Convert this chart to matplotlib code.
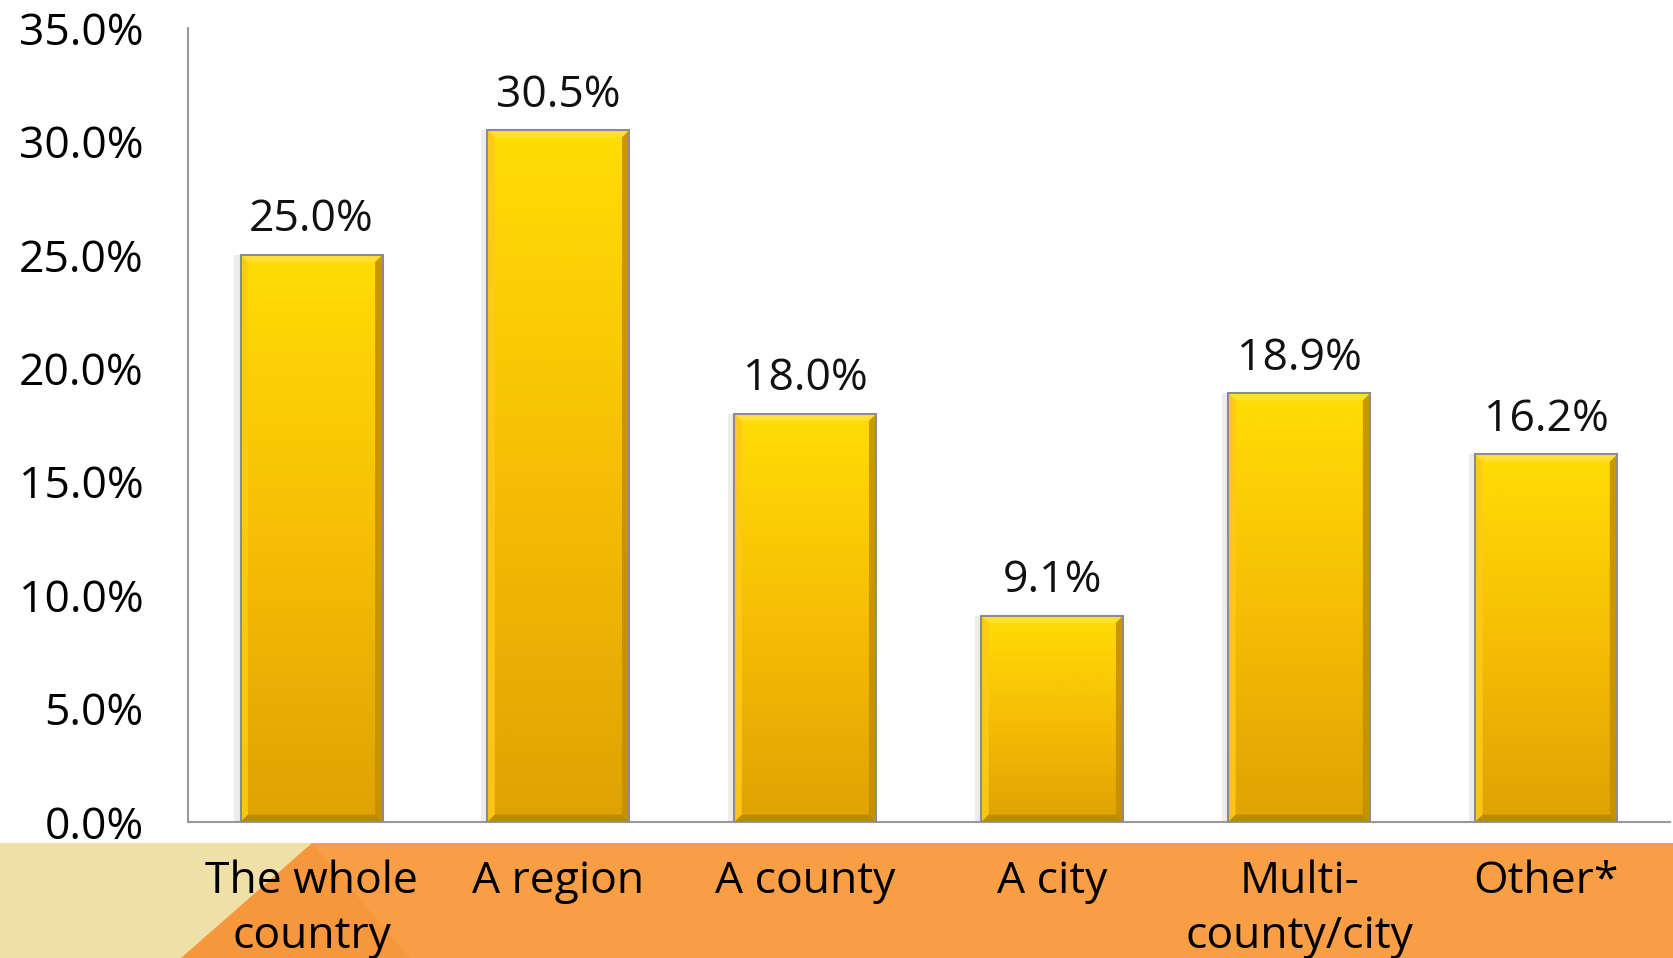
import numpy as np
import matplotlib
matplotlib.use("Agg")
import matplotlib.pyplot as plt
from matplotlib.patches import Polygon, Rectangle
from matplotlib.colors import LinearSegmentedColormap

plt.rcParams['font.family'] = ['Open Sans', 'DejaVu Sans']

categories = ['The whole\ncountry', 'A region', 'A county', 'A city',
              'Multi-\ncounty/city', 'Other*']
shares = [25.0, 30.5, 18.0, 9.1, 18.9, 16.2]
yticks = [0, 5, 10, 15, 20, 25, 30, 35]

fig = plt.figure(figsize=(16.73, 9.58), dpi=100)

# coloured band behind the category labels
band = fig.add_axes([0, 0, 1, 0.12])
band.set_xlim(0, 1673)
band.set_ylim(0, 115)
band.axis('off')
band.add_patch(Rectangle((0, 0), 1673, 115, color='#F89F45', lw=0))
band.add_patch(Polygon([(312, 115), (410, 0), (181, 0)], closed=True,
                       color='#F5973A', lw=0))
band.add_patch(Polygon([(0, 0), (181, 0), (312, 115), (0, 115)], closed=True,
                       color='#EEE0A6', lw=0))

ax = fig.add_axes([0.1124, 0.142, 0.8856, 0.8288])
x = np.arange(len(categories))
width = 0.575

ax.set_xlim(-0.5, len(categories) - 0.5)
ax.set_ylim(0, 35)

grad = LinearSegmentedColormap.from_list('gold', ['#DFA204', '#F6BE05', '#FFDD05'])
g = np.linspace(0, 1, 256).reshape(-1, 1)

bw = 0.03   # bevel width in x units
bh = 0.32   # bevel height in y units
for xi, v in zip(x, shares):
    l, r = xi - width / 2, xi + width / 2
    # faint shadow on the left
    ax.add_patch(Rectangle((l - 0.025, 0), 0.025, v, color='#EDEDED', lw=0, zorder=1))
    ax.imshow(g, extent=(l, r, 0, v), origin='lower', cmap=grad,
              aspect='auto', zorder=2, interpolation='bilinear')
    # bevelled edges
    ax.add_patch(Polygon([(l, 0), (l + bw, bh), (l + bw, v - bh), (l, v)],
                         color='#FFC81A', lw=0, alpha=0.9, zorder=3))
    ax.add_patch(Polygon([(l, v), (l + bw, v - bh), (r - bw, v - bh), (r, v)],
                         color='#FFE033', lw=0, zorder=3))
    ax.add_patch(Polygon([(r, v), (r - bw, v - bh), (r - bw, bh), (r, 0)],
                         color='#C49000', lw=0, alpha=0.9, zorder=3))
    ax.add_patch(Polygon([(l, 0), (l + bw, bh), (r - bw, bh), (r, 0)],
                         color='#B98A0A', lw=0, zorder=3))
    ax.add_patch(Rectangle((l, 0), width, v, fill=False, ec='#8C8C8C', lw=1.5, zorder=4))
    ax.text(xi, v + 0.55, f'{v:.1f}%', ha='center', va='bottom', fontsize=32,
            color='#111111', zorder=5)

ax.set_yticks(yticks)
ax.set_yticklabels([f'{t:.1f}%' for t in yticks])
ax.set_xticks(x)
ax.set_xticklabels(categories, linespacing=1.3)
ax.tick_params(axis='y', length=0, pad=32, labelsize=32)
ax.tick_params(axis='x', length=0, pad=27, labelsize=32)
for lab in ax.get_xticklabels():
    lab.set_va('top')

for side in ['top', 'right']:
    ax.spines[side].set_visible(False)
for side in ['left', 'bottom']:
    ax.spines[side].set_color('#999999')
    ax.spines[side].set_linewidth(1.5)

fig.savefig('out.png', dpi=100)
